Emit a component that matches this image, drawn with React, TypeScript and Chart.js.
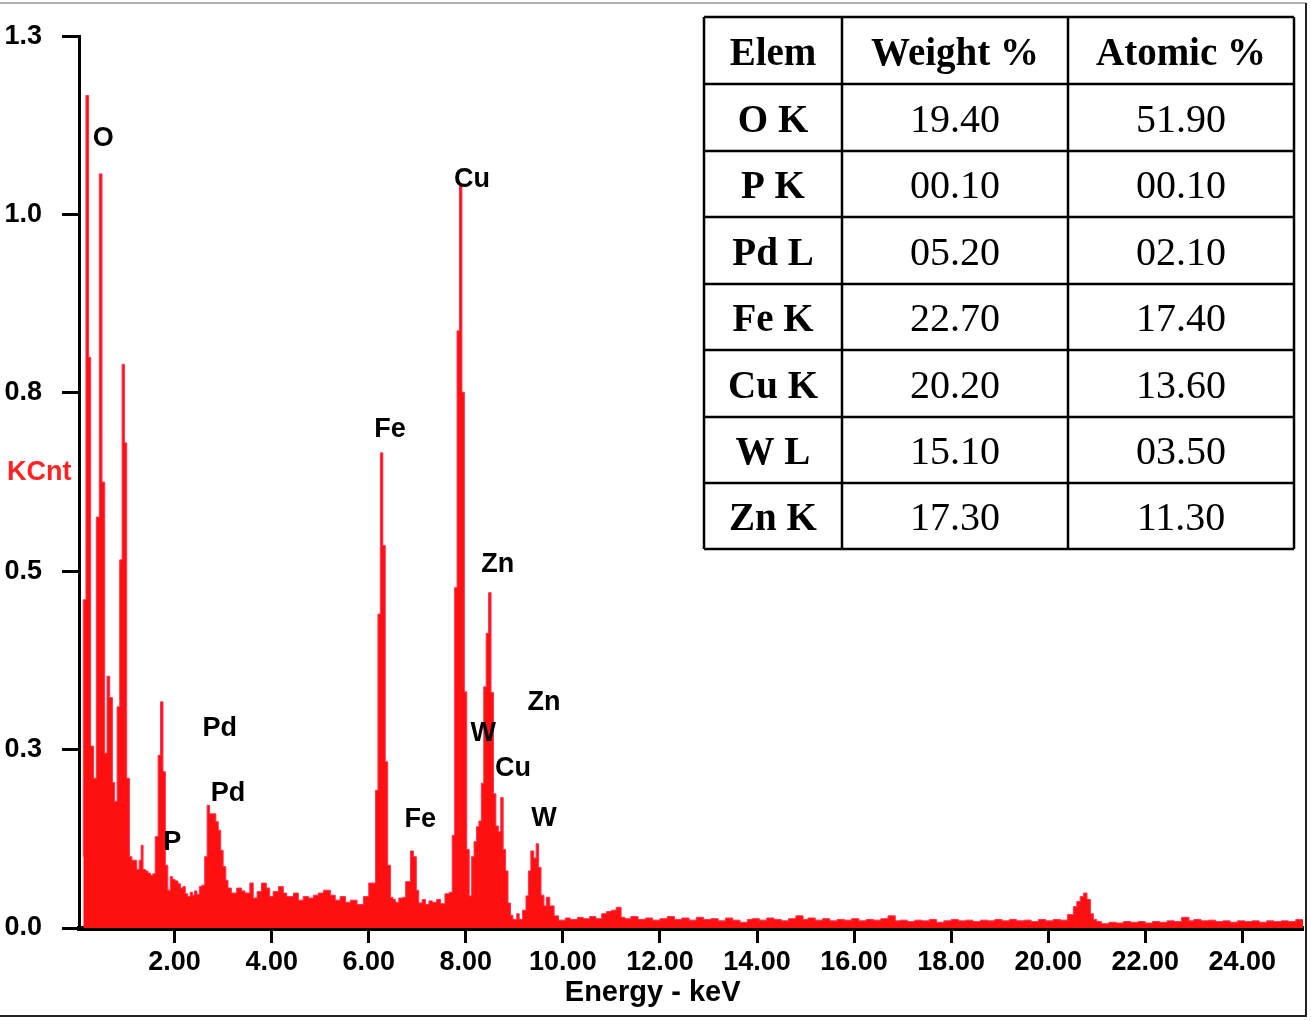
import React, { useEffect, useRef } from 'react';
import { Chart, registerables } from 'chart.js';

Chart.register(...registerables);

// ---- spectrum: [bin start energy (keV), KCnt] ----
const spectrumLow: [number, number][] = [
  [0.118, 0.10], [0.173, 0.46], [0.228, 1.167], [0.27, 0.80], [0.33, 0.255],
  [0.387, 0.21], [0.449, 0.576], [0.504, 1.057], [0.559, 0.625], [0.608, 0.245],
  [0.662, 0.353], [0.718, 0.323], [0.765, 0.204], [0.815, 0.177], [0.869, 0.31],
  [0.918, 0.516], [0.966, 0.79], [1.013, 0.68], [1.069, 0.21], [1.12, 0.10],
];

const spectrumPPd: [number, number][] = [
  [1.22, 0.095], [1.27, 0.082], [1.31, 0.095], [1.35, 0.116], [1.40, 0.082],
  [1.45, 0.080], [1.50, 0.077], [1.55, 0.074], [1.60, 0.076], [1.66, 0.128],
  [1.71, 0.242], [1.76, 0.317], [1.81, 0.219], [1.86, 0.088], [1.91, 0.053],
  [1.96, 0.072], [2.01, 0.068], [2.07, 0.066], [2.12, 0.062], [2.17, 0.056],
  [2.22, 0.058], [2.27, 0.048], [2.32, 0.044], [2.37, 0.050], [2.41, 0.046],
  [2.46, 0.052], [2.51, 0.047], [2.56, 0.058], [2.62, 0.060], [2.67, 0.10],
  [2.72, 0.172], [2.85, 0.16], [2.90, 0.149], [2.95, 0.137], [3.00, 0.109],
  [3.055, 0.086], [3.10, 0.067], [3.17, 0.056],
];

const spectrumBackground1: [number, number][] = [
  [3.28, 0.049], [3.38, 0.056], [3.45, 0.052], [3.55, 0.049], [3.62, 0.063],
  [3.70, 0.042], [3.79, 0.051], [3.89, 0.063], [3.96, 0.056], [4.03, 0.044],
  [4.14, 0.051], [4.24, 0.058], [4.31, 0.049], [4.45, 0.044], [4.55, 0.049],
  [4.65, 0.039], [4.76, 0.044], [4.86, 0.042], [4.96, 0.046], [5.07, 0.049],
  [5.21, 0.053], [5.31, 0.046], [5.41, 0.039], [5.52, 0.044], [5.62, 0.036],
  [5.76, 0.039], [5.89, 0.033], [6.00, 0.044], [6.10, 0.063],
];

const spectrumFe: [number, number][] = [
  [6.14, 0.063], [6.19, 0.193], [6.24, 0.44], [6.29, 0.666], [6.34, 0.536],
  [6.39, 0.233], [6.45, 0.088], [6.50, 0.043], [6.55, 0.040], [6.62, 0.036],
  [6.70, 0.042], [6.76, 0.043], [6.86, 0.065], [6.92, 0.108], [6.98, 0.100],
  [7.03, 0.053], [7.10, 0.035], [7.17, 0.040], [7.24, 0.033], [7.31, 0.038],
  [7.40, 0.036], [7.48, 0.040], [7.57, 0.034], [7.66, 0.048],
];

const spectrumCuZn: [number, number][] = [
  [7.72, 0.050], [7.77, 0.13], [7.82, 0.477], [7.87, 0.837], [7.92, 1.043],
  [7.97, 0.751], [8.02, 0.331], [8.07, 0.11], [8.12, 0.045], [8.17, 0.10],
  [8.22, 0.121], [8.27, 0.142], [8.32, 0.15], [8.37, 0.203], [8.42, 0.338],
  [8.47, 0.413], [8.52, 0.47], [8.57, 0.33], [8.62, 0.188], [8.67, 0.143],
  [8.72, 0.135], [8.77, 0.183], [8.82, 0.11], [8.87, 0.08], [8.92, 0.035],
  [8.97, 0.018], [9.05, 0.012], [9.10, 0.020], [9.17, 0.012], [9.24, 0.025],
];

const spectrumW: [number, number][] = [
  [9.29, 0.045], [9.34, 0.08], [9.40, 0.108], [9.45, 0.098], [9.50, 0.118],
  [9.55, 0.085], [9.61, 0.046], [9.66, 0.031], [9.73, 0.043], [9.82, 0.031],
  [9.91, 0.017], [10.05, 0.011],
];

const spectrumBackground2: [number, number][] = [
  [10.15, 0.014], [10.3, 0.012], [10.42, 0.015], [10.55, 0.013], [10.68, 0.016],
  [10.8, 0.013], [10.9, 0.020], [11.0, 0.023], [11.1, 0.025], [11.2, 0.029],
  [11.28, 0.015], [11.4, 0.013], [11.55, 0.016], [11.7, 0.012], [11.85, 0.014],
  [12.0, 0.011], [12.15, 0.013], [12.3, 0.016], [12.45, 0.012], [12.6, 0.014],
  [12.75, 0.011], [12.9, 0.015], [13.05, 0.012], [13.2, 0.013], [13.35, 0.010],
  [13.5, 0.014], [13.65, 0.011], [13.8, 0.008], [13.9, 0.012], [14.05, 0.013],
  [14.2, 0.011], [14.35, 0.014], [14.5, 0.012], [14.65, 0.010], [14.8, 0.013],
  [14.95, 0.017], [15.05, 0.012], [15.2, 0.014], [15.35, 0.011], [15.5, 0.013],
  [15.65, 0.010], [15.8, 0.012], [15.95, 0.011], [16.1, 0.013], [16.25, 0.010],
  [16.4, 0.012], [16.55, 0.011], [16.7, 0.013], [16.85, 0.017], [16.95, 0.010],
  [17.1, 0.011], [17.25, 0.009], [17.4, 0.011], [17.55, 0.010], [17.7, 0.012],
  [17.85, 0.008], [18.0, 0.010], [18.15, 0.012], [18.3, 0.010], [18.45, 0.011],
  [18.6, 0.009], [18.75, 0.011], [18.9, 0.010], [19.05, 0.012], [19.2, 0.010],
  [19.35, 0.012], [19.5, 0.010], [19.65, 0.011], [19.8, 0.009], [19.95, 0.012],
  [20.1, 0.010], [20.25, 0.012], [20.4, 0.011],
];

const spectrumHighPeak: [number, number][] = [
  [20.52, 0.019], [20.59, 0.030], [20.66, 0.037], [20.73, 0.044], [20.80, 0.049],
  [20.87, 0.040], [20.93, 0.020], [21.0, 0.012], [21.1, 0.009],
];

const spectrumBackground3: [number, number][] = [
  [21.25, 0.006], [21.4, 0.008], [21.55, 0.007], [21.7, 0.009], [21.85, 0.008],
  [22.0, 0.009], [22.15, 0.007], [22.3, 0.009], [22.45, 0.008], [22.6, 0.010],
  [22.75, 0.009], [22.9, 0.015], [23.0, 0.010], [23.15, 0.012], [23.3, 0.010],
  [23.45, 0.011], [23.6, 0.009], [23.75, 0.010], [23.9, 0.008], [24.05, 0.010],
  [24.2, 0.009], [24.35, 0.010], [24.5, 0.008], [24.65, 0.010], [24.8, 0.009],
  [24.95, 0.010], [25.1, 0.009], [25.18, 0.012], [25.25, 0.012],
];

// ---- axes ----
const xMin = 0.03;
const xMax = 25.25;
const xTickValues = [2, 4, 6, 8, 10, 12, 14, 16, 18, 20, 22, 24];
const yMin = 0;
const yMax = 1.25;
const yTickValues = [0, 0.25, 0.5, 0.75, 1.0, 1.25];
const yTickLabels = ['0.0', '0.3', '0.5', '0.8', '1.0', '1.3'];
const xAxisTitle = 'Energy - keV';
const yAxisTitle = 'KCnt';

// ---- peak labels ----
const peakLabelText = ['O', 'Cu', 'Fe', 'Zn', 'Zn', 'W', 'Cu', 'W', 'Fe', 'Pd', 'Pd', 'P'];
const peakLabelEnergy = [0.53, 8.13, 6.44, 8.66, 9.61, 8.36, 8.97, 9.61, 7.06, 2.93, 3.10, 1.95];
const peakLabelCount = [1.106, 1.049, 0.698, 0.51, 0.316, 0.273, 0.224, 0.154, 0.152, 0.28, 0.189, 0.12];

// ---- composition table ----
const tableHeader = ['Elem', 'Weight %', 'Atomic %'];
const tableElements = ['O K', 'P K', 'Pd L', 'Fe K', 'Cu K', 'W L', 'Zn K'];
const tableWeight = ['19.40', '00.10', '05.20', '22.70', '20.20', '15.10', '17.30'];
const tableAtomic = ['51.90', '00.10', '02.10', '17.40', '13.60', '03.50', '11.30'];

const W = 1311;
const H = 1021;
const SANS = '"Liberation Sans", Arial, sans-serif';
const SERIF = '"Liberation Serif", "Times New Roman", serif';

const decorPlugin = {
  id: 'decor',
  afterDatasetsDraw(chart: any) {
    const ctx = chart.ctx as CanvasRenderingContext2D;
    const xs = chart.scales.x;
    const ys = chart.scales.y;
    const area = chart.chartArea;
    ctx.save();
    // peak labels
    ctx.fillStyle = '#000';
    ctx.font = `bold 27px ${SANS}`;
    ctx.textAlign = 'center';
    ctx.textBaseline = 'middle';
    for (let i = 0; i < peakLabelText.length; i++) {
      ctx.fillText(peakLabelText[i], xs.getPixelForValue(peakLabelEnergy[i]), ys.getPixelForValue(peakLabelCount[i]));
    }
    // y title
    ctx.fillStyle = '#ff2222';
    ctx.font = `bold 27px ${SANS}`;
    ctx.textAlign = 'left';
    ctx.fillText(yAxisTitle, 7, ys.getPixelForValue(0.638));
    // x title
    ctx.fillStyle = '#000';
    ctx.font = `bold 29px ${SANS}`;
    ctx.textAlign = 'center';
    ctx.fillText(xAxisTitle, xs.getPixelForValue(11.85), area.bottom + 65);
    ctx.restore();
  },
  afterDraw(chart: any) {
    const ctx = chart.ctx as CanvasRenderingContext2D;
    ctx.save();
    // frame lines
    ctx.strokeStyle = '#b0b0b0';
    ctx.lineWidth = 2;
    ctx.beginPath();
    ctx.moveTo(0, 3);
    ctx.lineTo(1306, 3);
    ctx.stroke();
    ctx.strokeStyle = '#222';
    ctx.lineWidth = 2;
    ctx.beginPath();
    ctx.moveTo(1306, 3);
    ctx.lineTo(1306, 1016);
    ctx.lineTo(0, 1016);
    ctx.stroke();

    // table
    const colEdges = [704, 842, 1068, 1294];
    const rowEdges = [17, 84, 151, 217, 284, 350, 417, 483, 549];
    ctx.fillStyle = '#fff';
    ctx.fillRect(colEdges[0], rowEdges[0], colEdges[3] - colEdges[0], rowEdges[8] - rowEdges[0]);
    ctx.strokeStyle = '#000';
    ctx.lineWidth = 2.5;
    ctx.beginPath();
    for (const c of colEdges) {
      ctx.moveTo(c, rowEdges[0]);
      ctx.lineTo(c, rowEdges[rowEdges.length - 1]);
    }
    for (const r of rowEdges) {
      ctx.moveTo(colEdges[0], r);
      ctx.lineTo(colEdges[3], r);
    }
    ctx.stroke();
    ctx.fillStyle = '#000';
    ctx.textAlign = 'center';
    ctx.textBaseline = 'alphabetic';
    const colCenter = (i: number) => (colEdges[i] + colEdges[i + 1]) / 2;
    const rowBase = (i: number) => (rowEdges[i] + rowEdges[i + 1]) / 2 + 14;
    ctx.font = `bold 39px ${SERIF}`;
    tableHeader.forEach((t, i) => ctx.fillText(t, colCenter(i), rowBase(0)));
    for (let r = 0; r < tableElements.length; r++) {
      ctx.font = `bold 39px ${SERIF}`;
      ctx.fillText(tableElements[r], colCenter(0), rowBase(r + 1));
      ctx.font = `40px ${SERIF}`;
      ctx.fillText(tableWeight[r], colCenter(1), rowBase(r + 1));
      ctx.fillText(tableAtomic[r], colCenter(2), rowBase(r + 1));
    }
    ctx.restore();
  },
};

export default function App() {
  const canvasRef = useRef<HTMLCanvasElement | null>(null);

  useEffect(() => {
    const canvas = canvasRef.current;
    if (!canvas) return;
    const points = [
      ...spectrumLow,
      ...spectrumPPd,
      ...spectrumBackground1,
      ...spectrumFe,
      ...spectrumCuZn,
      ...spectrumW,
      ...spectrumBackground2,
      ...spectrumHighPeak,
      ...spectrumBackground3,
    ].map(([x, y]) => ({ x, y }));

    const tickFont = { family: SANS, size: 27, weight: 'bold' as const };

    const chart = new Chart(canvas, {
      type: 'line',
      data: {
        datasets: [
          {
            data: points,
            stepped: 'after',
            fill: 'origin',
            backgroundColor: '#ff1010',
            borderColor: '#ff3050',
            borderWidth: 1,
            pointRadius: 0,
            tension: 0,
          } as any,
        ],
      },
      options: {
        animation: false,
        responsive: false,
        maintainAspectRatio: false,
        events: [],
        layout: { padding: { left: 0, top: 33, right: 8, bottom: 0 } },
        plugins: { legend: { display: false }, tooltip: { enabled: false } },
        scales: {
          x: {
            type: 'linear',
            min: xMin,
            max: xMax,
            afterBuildTicks: (axis: any) => {
              axis.ticks = xTickValues.map((v) => ({ value: v }));
            },
            afterFit: (s: any) => {
              s.height = 93;
            },
            grid: {
              display: true,
              drawOnChartArea: false,
              drawTicks: true,
              tickLength: 15,
              tickWidth: 3,
              tickColor: '#000',
            },
            border: { display: true, color: '#000', width: 5 },
            ticks: {
              color: '#000',
              padding: 3,
              font: tickFont,
              maxRotation: 0,
              autoSkip: false,
              callback: (v: any) => Number(v).toFixed(2),
            },
          },
          y: {
            type: 'linear',
            min: yMin,
            max: yMax,
            afterBuildTicks: (axis: any) => {
              axis.ticks = yTickValues.map((v) => ({ value: v }));
            },
            afterFit: (s: any) => {
              s.width = 79;
            },
            grid: {
              display: true,
              drawOnChartArea: false,
              drawTicks: true,
              tickLength: 17,
              tickWidth: 3,
              tickColor: '#000',
            },
            border: { display: true, color: '#000', width: 3 },
            ticks: {
              color: '#000',
              padding: 20,
              font: tickFont,
              autoSkip: false,
              callback: (v: any) => {
                const i = yTickValues.indexOf(Number(v));
                return i >= 0 ? yTickLabels[i] : '';
              },
            },
          },
        },
      },
      plugins: [decorPlugin],
    });
    return () => chart.destroy();
  }, []);

  return (
    <div style={{ position: 'fixed', left: 0, top: 0, width: W, height: H, background: '#fff' }}>
      <canvas ref={canvasRef} width={W} height={H} style={{ width: W, height: H, display: 'block' }} />
    </div>
  );
}
